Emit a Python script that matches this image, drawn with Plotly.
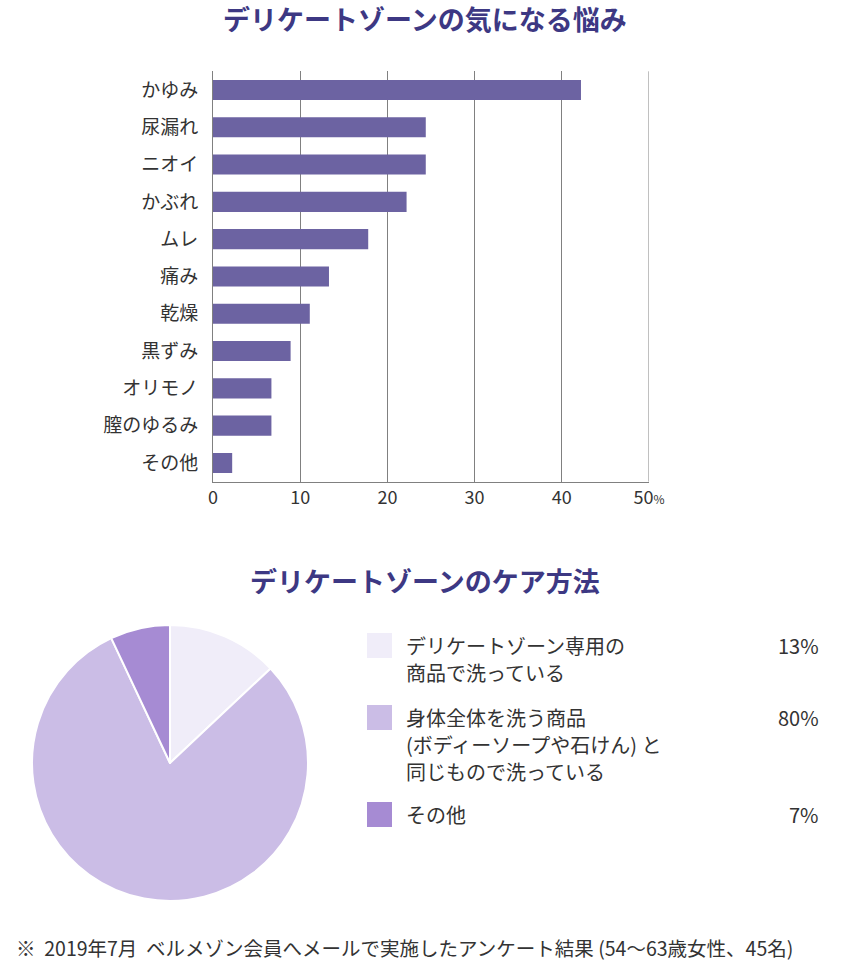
import plotly.graph_objects as go

# 気になる悩み (%)
concerns = ["かゆみ", "尿漏れ", "ニオイ", "かぶれ", "ムレ", "痛み", "乾燥", "黒ずみ", "オリモノ", "膣のゆるみ", "その他"]
concern_pct = [42.2, 24.4, 24.4, 22.2, 17.8, 13.3, 11.1, 8.9, 6.7, 6.7, 2.2]
x_ticks = [0, 10, 20, 30, 40, 50]
x_ticktext = ["0", "10", "20", "30", "40", "50<span style='font-size:12px'>%</span>"]

# ケア方法 (%)
care_labels = ["デリケートゾーン専用の<br>商品で洗っている",
               "身体全体を洗う商品<br>(ボディーソープや石けん) と<br>同じもので洗っている",
               "その他"]
care_pct = [13, 80, 7]
care_colors = ["#f0edf9", "#cbbde6", "#a68bd3"]

title1 = "デリケートゾーンの気になる悩み"
title2 = "デリケートゾーンのケア方法"
note = "※  2019年7月  ベルメゾン会員へメールで実施したアンケート結果 (54〜63歳女性、45名)"

FONT = "Noto Sans CJK JP"
W, H = 850, 961

fig = go.Figure()

fig.add_trace(go.Bar(
    x=concern_pct, y=concerns, orientation="h",
    marker=dict(color="#6c63a2", line=dict(width=0)),
    width=0.54, hoverinfo="x+y", showlegend=False,
))

fig.add_trace(go.Pie(
    values=care_pct, labels=care_labels,
    marker=dict(colors=care_colors, line=dict(color="white", width=2)),
    sort=False, direction="clockwise", rotation=0,
    textinfo="none", showlegend=False,
    domain=dict(x=[32 / W, 308 / W], y=[1 - 901 / H, 1 - 625 / H]),
))

fig.update_layout(
    width=W, height=H,
    margin=dict(l=0, r=0, t=0, b=0),
    paper_bgcolor="white", plot_bgcolor="white",
    font=dict(family=FONT, color="#333333"),
    xaxis=dict(
        domain=[213 / W, 649 / W], range=[0, 50],
        tickvals=x_ticks, ticktext=x_ticktext,
        showgrid=True, gridcolor="#808080", gridwidth=1,
        showline=True, linecolor="#808080", linewidth=1,
        zeroline=False, ticks="", tickfont=dict(size=18, color="#333333"),
        automargin=False, fixedrange=True,
    ),
    yaxis=dict(
        domain=[1 - 481.6 / H, 1 - 71.3 / H],
        autorange="reversed",
        showline=True, linecolor="#808080", linewidth=1,
        showgrid=False, ticks="", ticklabelstandoff=10,
        tickfont=dict(size=19, color="#333333"),
        automargin=False, fixedrange=True,
    ),
)

ann = []
ann.append(dict(text="<b>" + title1 + "</b>", x=0.5, y=1 - 19 / H, xref="paper", yref="paper",
                showarrow=False, xanchor="center", yanchor="middle",
                font=dict(size=27, color="#3d3883", family=FONT)))
ann.append(dict(text="<b>" + title2 + "</b>", x=0.5, y=1 - 580 / H, xref="paper", yref="paper",
                showarrow=False, xanchor="center", yanchor="middle",
                font=dict(size=27, color="#3d3883", family=FONT)))
ann.append(dict(text=note, x=14 / W, y=1 - 947 / H, xref="paper", yref="paper",
                showarrow=False, xanchor="left", yanchor="middle",
                font=dict(size=19.5, color="#333333", family=FONT)))

# 右端(50%)の縦線は plotly がグリッドを描かないので線を足す
shapes = [dict(type="line", xref="x", yref="y domain",
               x0=x_ticks[-1], x1=x_ticks[-1], y0=0, y1=1,
               line=dict(color="#808080", width=1))]

# 凡例
item_top = [633, 705, 802]
line_h = 27
for i, lab in enumerate(care_labels):
    top = item_top[i]
    shapes.append(dict(type="rect", xref="paper", yref="paper",
                       x0=367 / W, x1=392 / W, y0=1 - (top + 25) / H, y1=1 - top / H,
                       fillcolor=care_colors[i], line=dict(width=0)))
    for j, ln in enumerate(lab.split("<br>")):
        ann.append(dict(text=ln, x=404 / W, y=1 - (top + 12 + j * line_h) / H,
                        xref="paper", yref="paper", showarrow=False,
                        xanchor="left", yanchor="middle",
                        font=dict(size=20, color="#333333", family=FONT)))
    ann.append(dict(text=f"{care_pct[i]}%", x=821 / W, y=1 - (top + 12) / H,
                    xref="paper", yref="paper", showarrow=False,
                    xanchor="right", yanchor="middle",
                    font=dict(size=20, color="#333333", family=FONT)))

fig.update_layout(annotations=ann, shapes=shapes)

# ブラウザ既定の body 余白(8px)とスクロールバーを消す
fig.write_html("out.html",
               config={"displayModeBar": False, "responsive": False},
               post_script="document.body.style.margin='0';document.body.style.overflow='hidden';")
